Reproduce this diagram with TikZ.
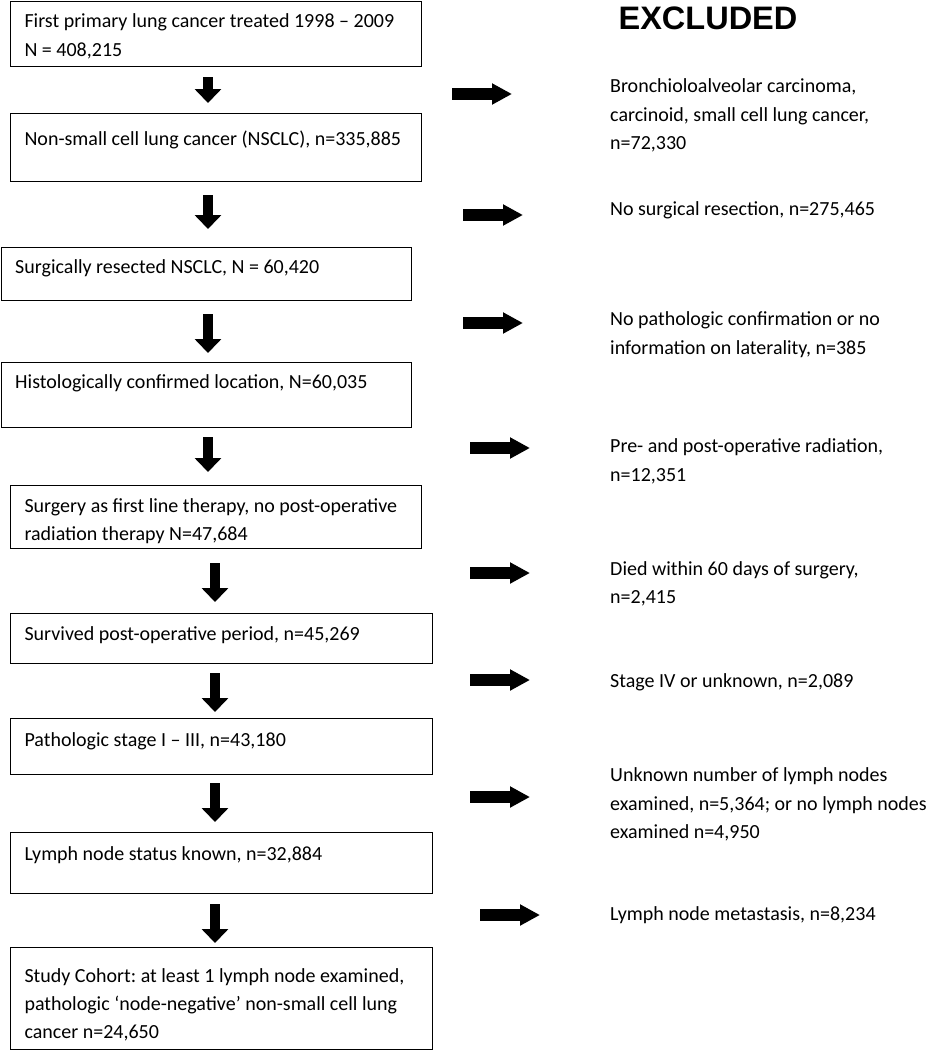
\documentclass[tikz,border=0pt]{standalone}
\usepackage{fontspec}
\setmainfont{Carlito}
\newfontfamily\headfont{Liberation Sans}
\usetikzlibrary{arrows.meta}
\newcommand{\flowfont}{\fontsize{20}{28.3}\selectfont\frenchspacing}
\tikzset{
  wordspace/.style={align=justify,execute at begin node={\spaceskip 0.226em plus 0.05em\relax}},
  stagebox/.style={draw,line width=1.1pt,anchor=north west,inner xsep=14pt,inner ysep=0pt,wordspace},
  exclnote/.style={anchor=base west,inner sep=0pt,text width=330pt,wordspace},
  downarrow/.style={line width=10pt,-{Triangle[width=26pt,length=14pt]}},
  outarrow/.style={line width=12pt,-{Triangle[width=20pt,length=20pt]}}
}

\begin{document}
\begin{tikzpicture}[x=1pt,y=-1pt,font=\flowfont]
  \useasboundingbox (0,0) rectangle (929,1050);
  % draw cohort boxes
  \node[stagebox,text width=383pt,text height=26.6pt,text depth=38.7pt] (first) at (10,0.7)
    {First primary lung cancer treated 1998 -- 2009\\N = 408,215};
  \node[stagebox,text width=383pt,text height=32pt,text depth=36pt] (nsclc) at (10,113)
    {Non-small cell lung cancer (NSCLC), n=335,885};
  \node[stagebox,text width=382.3pt,text height=26.3pt,text depth=26.7pt] (resected) at (0.7,247)
    {Surgically resected NSCLC, N = 60,420};
  \node[stagebox,text width=382.3pt,text height=26pt,text depth=39pt] (histo) at (0.7,362)
    {Histologically confirmed location, N=60,035};
  \node[stagebox,text width=383pt,text height=26.7pt,text depth=36.3pt] (surgery) at (10,485)
    {Surgery as first line therapy, no post-operative\\radiation therapy N=47,684};
  \node[stagebox,text width=394pt,text height=27pt,text depth=23pt] (survived) at (10,613)
    {Survived post-operative period, n=45,269};
  \node[stagebox,text width=394pt,text height=27.7pt,text depth=28.3pt] (stage) at (10,718)
    {Pathologic stage I -- III, n=43,180};
  \node[stagebox,text width=394pt,text height=28pt,text depth=33pt] (status) at (10,832)
    {Lymph node status known, n=32,884};
  \node[stagebox,text width=394pt,text height=34.7pt,text depth=67.3pt] (cohort) at (10,947)
    {Study Cohort: at least 1 lymph node examined,\\pathologic ‘node-negative’ non-small cell lung\\cancer n=24,650};
  % draw downward arrows
  \foreach \a/\b/\x/\s/\e in {first/nsclc/208/10/10, nsclc/resected/208/13/18, resected/histo/208/13/9,
      histo/surgery/208/9/13, surgery/survived/215/14/11, survived/stage/215/9/6,
      stage/status/215/8/10, status/cohort/215/10/4} {
    \draw[downarrow,shorten <=\s pt,shorten >=\e pt] (\a.south -| \x,0) -- (\b.north -| \x,0);
  }
  % draw excluded column
  \node[anchor=base,inner sep=0pt,font=\headfont\bfseries\fontsize{32.5}{36}\selectfont] (excluded) at (708,29.3) {EXCLUDED};
  \node[exclnote] (ex1) at (610,92.7) {Bronchioloalveolar carcinoma,\\carcinoid, small cell lung cancer,\\n=72,330};
  \node[exclnote] (ex2) at (610,215) {No surgical resection, n=275,465};
  \node[exclnote] (ex3) at (610,325.7) {No pathologic confirmation or no\\information on laterality, n=385};
  \node[exclnote] (ex4) at (610,452.7) {Pre- and post-operative radiation,\\n=12,351};
  \node[exclnote] (ex5) at (610,575) {Died within 60 days of surgery,\\n=2,415};
  \node[exclnote] (ex6) at (610,687.7) {Stage IV or unknown, n=2,089};
  \node[exclnote] (ex7) at (610,781.7) {Unknown number of lymph nodes\\examined, n=5,364; or no lymph nodes\\examined n=4,950};
  \node[exclnote] (ex8) at (610,920) {Lymph node metastasis, n=8,234};
  % draw arrows towards excluded
  \foreach \n/\x/\y in {1/452/94, 2/463/215, 3/463/323, 4/470/448, 5/470/573, 6/470/680, 7/470/797, 8/480/915} {
    \coordinate (out\n) at (\x,\y);
    \draw[outarrow] (out\n) -- ++(60,0);
  }
\end{tikzpicture}
\end{document}
